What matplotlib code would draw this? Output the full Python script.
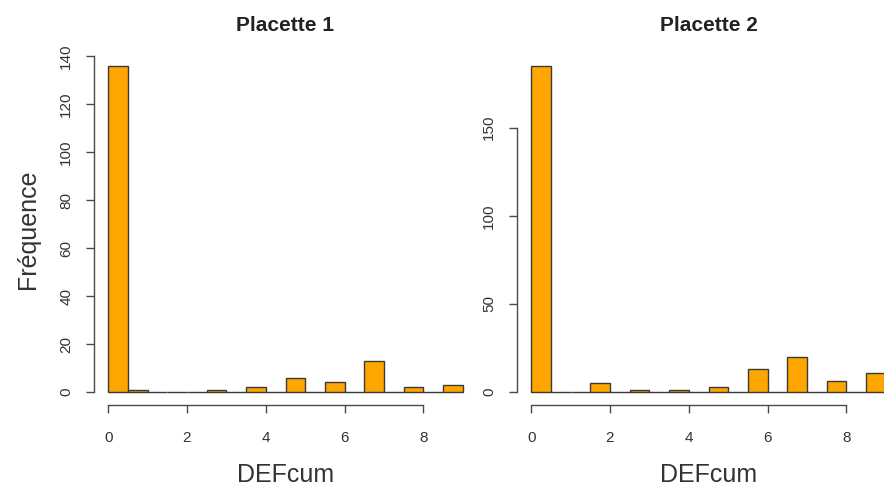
import numpy as np
import matplotlib.pyplot as plt

plt.rcParams['font.family'] = ['Liberation Sans', 'DejaVu Sans']

# DEFcum values (integers) and their frequencies for each plot
valeurs = [0, 1, 2, 3, 4, 5, 6, 7, 8, 9]
freq_p1 = [136, 1, 0, 1, 2, 6, 4, 13, 2, 3]
freq_p2 = [185, 0, 5, 1, 1, 3, 13, 20, 6, 11]
titres = ["Placette 1", "Placette 2"]
yticks_p1 = [0, 20, 40, 60, 80, 100, 120, 140]
yticks_p2 = [0, 50, 100, 150]
xticks = [0, 2, 4, 6, 8]

W, H = 884, 490
fig = plt.figure(figsize=(W / 100, H / 100), dpi=100)


def px_axes(left, top, right, bottom):
    return fig.add_axes([left / W, 1 - bottom / H, (right - left) / W, (bottom - top) / H])


ax1 = px_axes(94, 53, 477, 405)
ax2 = px_axes(517, 53, 900, 405)

gris = '#4a4a4a'
for ax, freq, titre, yt in [(ax1, freq_p1, titres[0], yticks_p1),
                            (ax2, freq_p2, titres[1], yticks_p2)]:
    # R style histogram bins of width 0.5: value k falls in (k-0.5, k]
    edges = np.arange(0, 9.0, 0.5)
    counts = np.zeros(len(edges))
    for v, f in zip(valeurs, freq):
        idx = 0 if v == 0 else 2 * v - 1
        counts[idx] = f
    ax.bar(edges, counts, width=0.5, align='edge', color='#FFA500',
           edgecolor='#3a3a3a', linewidth=1.0)
    ymax = max(freq)
    ax.set_xlim(-0.36, 9.36)
    ax.set_ylim(-0.04 * ymax, 1.04 * ymax)
    for s in ['top', 'right']:
        ax.spines[s].set_visible(False)
    ax.spines['left'].set_bounds(yt[0], yt[-1])
    ax.spines['bottom'].set_bounds(xticks[0], xticks[-1])
    for s in ['left', 'bottom']:
        ax.spines[s].set_color(gris)
        ax.spines[s].set_linewidth(1.0)
    ax.set_xticks(xticks)
    ax.set_yticks(yt)
    ax.set_yticklabels([str(t) for t in yt], rotation=90, va='center')
    ax.tick_params(axis='both', direction='out', length=6, width=1.0,
                   color=gris, labelcolor='#333333', labelsize=11)
    ax.tick_params(axis='x', pad=13)
    ax.tick_params(axis='y', pad=9)
    ax.set_title(titre, fontsize=15, fontweight='bold', color='#222222', pad=16)
    ax.set_xlabel("DEFcum", fontsize=18, color='#333333', labelpad=13)

ax1.set_ylabel("Fréquence", fontsize=18, color='#333333', labelpad=14)

fig.savefig('out.png', dpi=100)
